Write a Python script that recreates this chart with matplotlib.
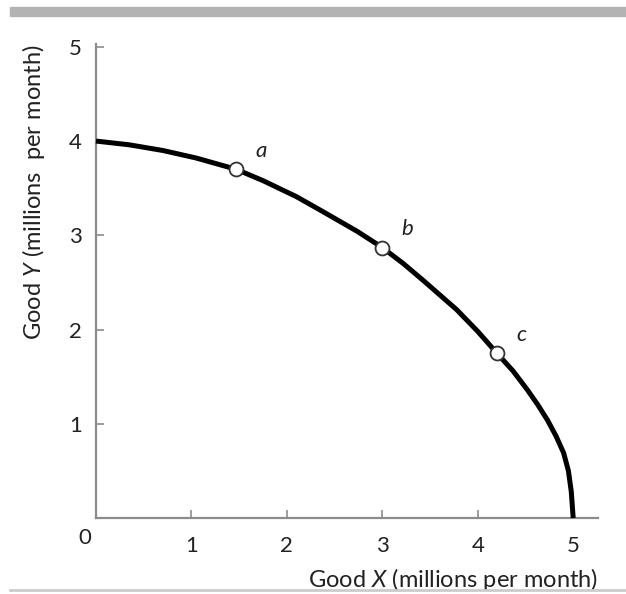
import numpy as np
import matplotlib
matplotlib.use("Agg")
import matplotlib.pyplot as plt
from matplotlib.patches import Rectangle
from matplotlib.lines import Line2D

plt.rcParams['font.family'] = ['Lato', 'DejaVu Sans']
plt.rcParams['mathtext.fontset'] = 'custom'
plt.rcParams['mathtext.it'] = 'Lato:italic'
plt.rcParams['mathtext.rm'] = 'Lato'

# production possibilities frontier
ppf_x = [0.0, 0.35, 0.7, 1.05, 1.47, 1.75, 2.1, 2.38, 2.74, 3.0, 3.22, 3.43,
         3.78, 4.0, 4.2, 4.37, 4.52, 4.63, 4.73, 4.82, 4.9, 4.95, 4.98, 5.0]
ppf_y = [4.0, 3.96, 3.90, 3.82, 3.70, 3.58, 3.41, 3.25, 3.04, 2.87, 2.70, 2.52,
         2.21, 1.98, 1.75, 1.56, 1.36, 1.20, 1.04, 0.87, 0.69, 0.50, 0.28, 0.0]

# labelled points
pt_names = ['a', 'b', 'c']
pt_x = [1.47, 3.0, 4.2]
pt_y = [3.70, 2.87, 1.75]

x_ticks = [1, 2, 3, 4, 5]
y_ticks = [1, 2, 3, 4, 5]

AX_COL = '#8c8c8c'
TXT = '#222222'

fig = plt.figure(figsize=(6.26, 5.94), dpi=100)
ax = fig.add_axes([96/626, 76/594, 502/626, 474/594])

ax.plot(ppf_x, ppf_y, color='black', lw=3.6, solid_joinstyle='round',
        solid_capstyle='butt', clip_on=False, zorder=3)
ax.plot(pt_x, pt_y, 'o', ms=10, mfc='white', mec='#333333', mew=1.3, zorder=4, clip_on=False)
for name, x, y in zip(pt_names, pt_x, pt_y):
    ax.text(x + 0.2, y + 0.13, name, fontsize=16, style='italic', color=TXT)

ax.set_xlim(0, 5.26)
ax.set_ylim(0, 5.03)

for s in ['top', 'right']:
    ax.spines[s].set_visible(False)
for s in ['left', 'bottom']:
    ax.spines[s].set_color(AX_COL)
    ax.spines[s].set_linewidth(1.6)

ax.set_xticks(x_ticks)
ax.set_yticks(y_ticks)
ax.tick_params(direction='in', length=6, width=1.2, color=AX_COL,
               labelsize=16, labelcolor=TXT)
ax.tick_params(axis='x', pad=13)
ax.tick_params(axis='y', pad=10)
ax.text(-0.12, -0.21, '0', fontsize=16, color=TXT, ha='center', va='center')

ax.set_xlabel('Good $X$ (millions per month)', loc='right', fontsize=17,
              color=TXT, labelpad=7)
ax.set_ylabel('Good $Y$ (millions  per month)', loc='top', fontsize=17,
              color=TXT, labelpad=16)

# grey rule on top and thin rule at the bottom
fig.patches.append(Rectangle((10/626, 1 - 16/594), 616/626, 9/594,
                             transform=fig.transFigure, color='#b3b3b3', zorder=0))
fig.lines.append(Line2D([10/626, 1], [1 - 590/594, 1 - 590/594],
                        transform=fig.transFigure, color='#cccccc', lw=2))

fig.savefig('out.png', dpi=100)
